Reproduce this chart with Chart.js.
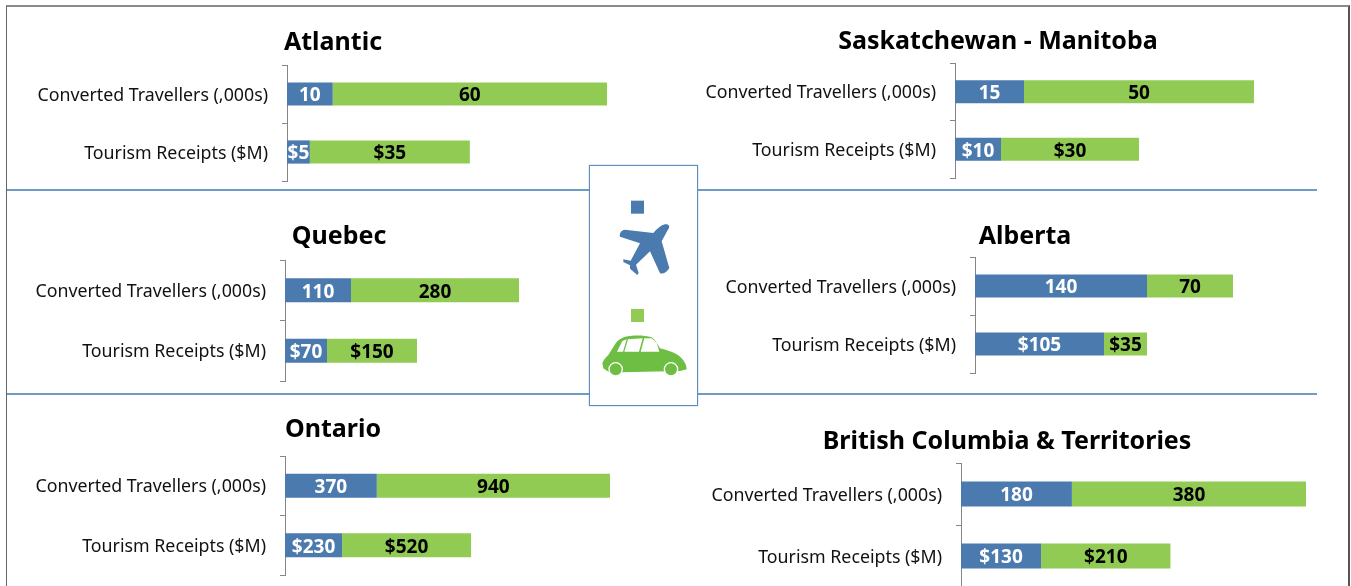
<!DOCTYPE html>
<html><head><meta charset="utf-8">
<script src="https://cdn.jsdelivr.net/npm/chart.js@4"></script>
<style>
html,body{margin:0;padding:0;background:#fff;width:1351px;height:586px;overflow:hidden}
#frame{position:absolute;left:6px;top:5px;width:1344px;height:600px;border-style:solid;border-width:2px 2px 0 1px;border-color:#8a8a8a #555 #555 #666;box-sizing:border-box}
.rule{position:absolute;left:7px;width:1310px;height:2px;background:#6f9ac4}
canvas{position:absolute}
#legend{position:absolute;left:589px;top:165px;width:109px;height:241px;box-sizing:border-box;border:1px solid #5f8fbe;background:#fff;box-shadow:0 0 1px #5f8fbe}
#icons{position:absolute;left:580px;top:160px;width:130px;height:250px}
</style></head><body>
<div id="frame"></div>
<div class="rule" style="top:189px"></div>
<div class="rule" style="top:393px"></div>
<div id="charts"></div>
<div id="legend"></div>
<svg id="icons" viewBox="0 0 390 750">
<rect x="153" y="122" width="39" height="39" fill="#4A7AAE"/>
<path fill="#4A7AAE" d="M264 194C255 190 240 196 220 219L135 209C124 209 117 222 120 230L180 250L152 302L130 298L130 306L150 316L150 326L172 345L176 339L168 314L210 274L240 340C250 343 262 336 268 324L245 244L262 212C268 204 270 197 264 194Z"/>
<rect x="153" y="447" width="39" height="39" fill="#92CB54"/>
<path fill="#6FBE44" d="M67 610C70 600 78 592 85 585L107 550C115 538 130 530 150 528C170 526 195 526 215 532C225 538 232 552 240 565C260 570 290 578 305 595C315 605 320 618 320 628L300 633L125 637L85 635L70 625Z"/>
<path fill="#fff" d="M111 575L127 543L140 538L129 575ZM133 575L144 538L188 535L177 575ZM182 575L193 535L215 535L230 548L238 575Z"/>
<circle cx="107" cy="628" r="20" fill="#6FBE44" stroke="#fff" stroke-width="4"/>
<circle cx="273" cy="628" r="20" fill="#6FBE44" stroke="#fff" stroke-width="4"/>
</svg>
<script>
const categories = ['Converted Travellers (,000s)', 'Tourism Receipts ($M)'];
const regions = ['Atlantic', 'Saskatchewan - Manitoba', 'Quebec', 'Alberta', 'Ontario', 'British Columbia & Territories'];
const airAtlantic = [10, 5],    carAtlantic = [60, 35];
const airSask = [15, 10],       carSask = [50, 30];
const airQuebec = [110, 70],    carQuebec = [280, 150];
const airAlberta = [140, 105],  carAlberta = [70, 35];
const airOntario = [370, 230],  carOntario = [940, 520];
const airBC = [180, 130],       carBC = [380, 210];
const airSeries = [airAtlantic, airSask, airQuebec, airAlberta, airOntario, airBC];
const carSeries = [carAtlantic, carSask, carQuebec, carAlberta, carOntario, carBC];

// layout of each panel in page pixels
const panels = [
 {cx:332.5, half:304, axis:287, top:65,  bottom:181, end:607,  gap:22},
 {cx:997.5, half:300, axis:955, top:63,  bottom:178, end:1254, gap:21},
 {cx:338.5, half:308, axis:285, top:260, bottom:381, end:519,  gap:23},
 {cx:1025,  half:310, axis:975, top:257, bottom:373, end:1233, gap:20},
 {cx:332.5, half:302, axis:285, top:456, bottom:575, end:610,  gap:26},
 {cx:1006.5,half:300, axis:961, top:463, bottom:587, end:1306, gap:21}
];
const BLUE='#4A7AAE', GREEN='#92CB54', AXIS='#868686';
const LABEL_FONT='"Noto Sans"', TITLE_FONT='"Noto Sans"';
const TITLE_SIZE=25, TITLE_BLOCK=30, LABEL_SIZE=17.8, LABEL_BLOCK=22, LABEL_PAD=14;
const BELOW=LABEL_BLOCK/2+LABEL_PAD; // room Chart.js keeps under a vertical axis for its last label

const valueLabels = {
  id:'valueLabels',
  afterDatasetsDraw(chart){
    const ctx=chart.ctx;
    chart.data.datasets.forEach((ds,di)=>{
      chart.getDatasetMeta(di).data.forEach((bar,i)=>{
        const p=bar.getProps(['x','base','y'],true);
        ctx.save();
        ctx.font='bold 19px '+LABEL_FONT;
        ctx.fillStyle=di===0?'#fff':'#000';
        ctx.textAlign='center';ctx.textBaseline='middle';
        ctx.fillText((i===1?'$':'')+ds.data[i],(p.x+p.base)/2,p.y+2);
        ctx.restore();
      });
    });
  }
};

panels.forEach((p,k)=>{
  const cTop=p.top-p.gap-TITLE_BLOCK/2, cLeft=Math.round(p.cx-p.half), W=Math.round(p.cx+p.half)-cLeft, H=p.bottom-cTop+BELOW;
  const c=document.createElement('canvas');
  c.width=W;c.height=H;
  c.style.left=cLeft+'px';c.style.top=cTop+'px';
  document.getElementById('charts').appendChild(c);
  const total=Math.max(...airSeries[k].map((v,i)=>v+carSeries[k][i]));
  // the value axis runs on to the canvas edge, so that the title stays centred on the canvas
  const axisMax=total*(cLeft+W-p.axis)/(p.end-p.axis);
  new Chart(c,{
    type:'bar',
    plugins:[valueLabels],
    data:{labels:categories,datasets:[
      {label:'Air',data:airSeries[k],backgroundColor:BLUE,barPercentage:0.4,categoryPercentage:1},
      {label:'Car',data:carSeries[k],backgroundColor:GREEN,barPercentage:0.4,categoryPercentage:1}
    ]},
    options:{
      indexAxis:'y',responsive:false,animation:false,devicePixelRatio:1,
      layout:{padding:0},
      plugins:{
        legend:{display:false},tooltip:{enabled:false},
        title:{display:true,text:regions[k],color:'#000',
          font:{family:TITLE_FONT,size:TITLE_SIZE,weight:'bold',lineHeight:TITLE_BLOCK/TITLE_SIZE},
          padding:{top:0,bottom:p.gap-TITLE_BLOCK/2}}
      },
      scales:{
        x:{display:false,stacked:true,min:0,max:axisMax},
        y:{stacked:true,offset:true,
          afterFit(s){s.width=p.axis-cLeft;},
          border:{display:true,color:AXIS,width:1},
          grid:{offset:true,drawOnChartArea:false,drawTicks:true,tickLength:5,color:AXIS},
          ticks:{padding:LABEL_PAD,labelOffset:1.5,color:'#111',font:{family:LABEL_FONT,size:LABEL_SIZE,lineHeight:LABEL_BLOCK/LABEL_SIZE}}
        }
      }
    }
  });
});
</script>
</body></html>
